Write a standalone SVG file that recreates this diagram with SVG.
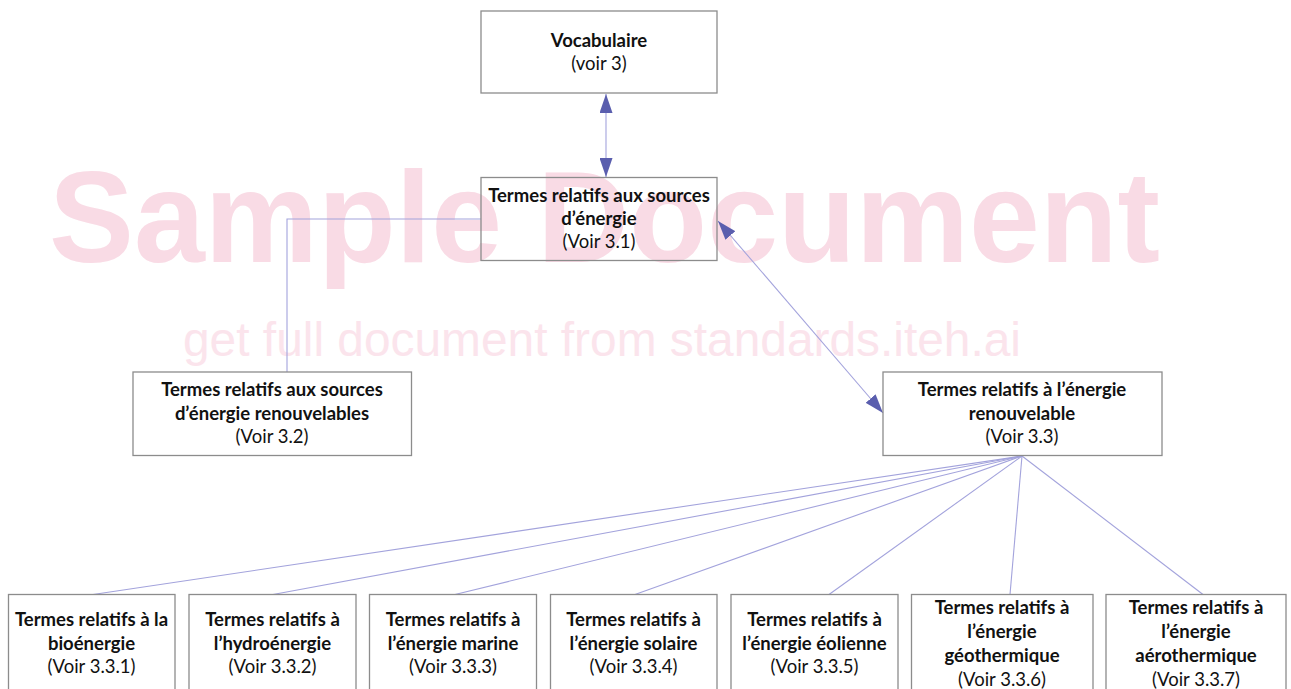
<svg xmlns="http://www.w3.org/2000/svg" width="1291" height="689" viewBox="0 0 1291 689">
<style>
.box{fill:none;stroke:#8c8c8c;stroke-width:1.3}
.t{font-family:Lato,"Liberation Sans",sans-serif;font-size:18.5px;fill:#111111;text-anchor:middle}
.b{font-weight:bold}
.c{fill:none;stroke:#a3a3dc;stroke-width:1.1}
.wm1{font-family:"Liberation Sans",Arial,sans-serif;font-weight:bold;font-size:130px;fill:#f9dbe5}
.wm2{font-family:"Liberation Sans",Arial,sans-serif;font-size:48px;fill:#fbe4ec}
</style>
<defs>
<marker id="ah" markerUnits="userSpaceOnUse" markerWidth="20" markerHeight="13" refX="19" refY="6.5" orient="auto-start-reverse">
<path d="M0,0 L19,6.5 L0,13 z" fill="#5a5eae"/>
</marker>
</defs>
<rect width="1291" height="689" fill="#ffffff"/>
<g id="watermark">
<text class="wm1" x="49" y="262" textLength="1111" lengthAdjust="spacingAndGlyphs">Sample Document</text>
<text class="wm2" x="183" y="356" textLength="838" lengthAdjust="spacingAndGlyphs">get full document from standards.iteh.ai</text>
</g>
<g id="connectors">
<line class="c" x1="606" y1="94" x2="606" y2="177" marker-start="url(#ah)" marker-end="url(#ah)"/>
<line class="c" x1="718" y1="221" x2="883" y2="413" marker-start="url(#ah)" marker-end="url(#ah)"/>
<polyline class="c" points="481,219 287,219 287,372"/>
<line class="c" x1="1022" y1="456" x2="93" y2="594.5"/>
<line class="c" x1="1022" y1="456" x2="273" y2="594.5"/>
<line class="c" x1="1022" y1="456" x2="455" y2="594.5"/>
<line class="c" x1="1022" y1="456" x2="635" y2="594.5"/>
<line class="c" x1="1022" y1="456" x2="829" y2="594.5"/>
<line class="c" x1="1022" y1="456" x2="1010" y2="594.5"/>
<line class="c" x1="1022" y1="456" x2="1203" y2="594.5"/>
</g>
<g id="n-vocabulaire">
<rect class="box" x="481" y="11" width="236" height="82"/>
<text class="t b" x="599" y="47">Vocabulaire</text>
<text class="t" x="599" y="70">(voir 3)</text>
</g>
<g id="n-3-1">
<rect class="box" x="481" y="177.5" width="236" height="83"/>
<text class="t b" x="599" y="201.5">Termes relatifs aux sources</text>
<text class="t b" x="599" y="224.5">d’énergie</text>
<text class="t" x="599" y="247.5">(Voir 3.1)</text>
</g>
<g id="n-3-2">
<rect class="box" x="133" y="372" width="278.5" height="83.5"/>
<text class="t b" x="272" y="395.5">Termes relatifs aux sources</text>
<text class="t b" x="272" y="419.5">d’énergie renouvelables</text>
<text class="t" x="272" y="442.5">(Voir 3.2)</text>
</g>
<g id="n-3-3">
<rect class="box" x="883" y="372" width="279" height="83.5"/>
<text class="t b" x="1022" y="395.5">Termes relatifs à l’énergie</text>
<text class="t b" x="1022" y="419.5">renouvelable</text>
<text class="t" x="1022" y="442.5">(Voir 3.3)</text>
</g>
<g id="n-3-3-1">
<rect class="box" x="8.5" y="594.5" width="166.5" height="110"/>
<text class="t b" x="91.5" y="625.5">Termes relatifs à la</text>
<text class="t b" x="91.5" y="649.5">bioénergie</text>
<text class="t" x="91.5" y="672.5">(Voir 3.3.1)</text>
</g>
<g id="n-3-3-2">
<rect class="box" x="189" y="594.5" width="167" height="110"/>
<text class="t b" x="272.5" y="625.5">Termes relatifs à</text>
<text class="t b" x="272.5" y="649.5">l’hydroénergie</text>
<text class="t" x="272.5" y="672.5">(Voir 3.3.2)</text>
</g>
<g id="n-3-3-3">
<rect class="box" x="369.5" y="594.5" width="167" height="110"/>
<text class="t b" x="453" y="625.5">Termes relatifs à</text>
<text class="t b" x="453" y="649.5">l’énergie marine</text>
<text class="t" x="453" y="672.5">(Voir 3.3.3)</text>
</g>
<g id="n-3-3-4">
<rect class="box" x="550.5" y="594.5" width="166.5" height="110"/>
<text class="t b" x="633.5" y="625.5">Termes relatifs à</text>
<text class="t b" x="633.5" y="649.5">l’énergie solaire</text>
<text class="t" x="633.5" y="672.5">(Voir 3.3.4)</text>
</g>
<g id="n-3-3-5">
<rect class="box" x="731" y="594.5" width="167" height="110"/>
<text class="t b" x="814.5" y="625.5">Termes relatifs à</text>
<text class="t b" x="814.5" y="649.5">l’énergie éolienne</text>
<text class="t" x="814.5" y="672.5">(Voir 3.3.5)</text>
</g>
<g id="n-3-3-6">
<rect class="box" x="911.5" y="594.5" width="181.5" height="110"/>
<text class="t b" x="1002" y="613.5">Termes relatifs à</text>
<text class="t b" x="1002" y="637.5">l’énergie</text>
<text class="t b" x="1002" y="661.5">géothermique</text>
<text class="t" x="1002" y="685.5">(Voir 3.3.6)</text>
</g>
<g id="n-3-3-7">
<rect class="box" x="1106" y="594.5" width="180" height="110"/>
<text class="t b" x="1196" y="613.5">Termes relatifs à</text>
<text class="t b" x="1196" y="637.5">l’énergie</text>
<text class="t b" x="1196" y="661.5">aérothermique</text>
<text class="t" x="1196" y="685.5">(Voir 3.3.7)</text>
</g>
</svg>
